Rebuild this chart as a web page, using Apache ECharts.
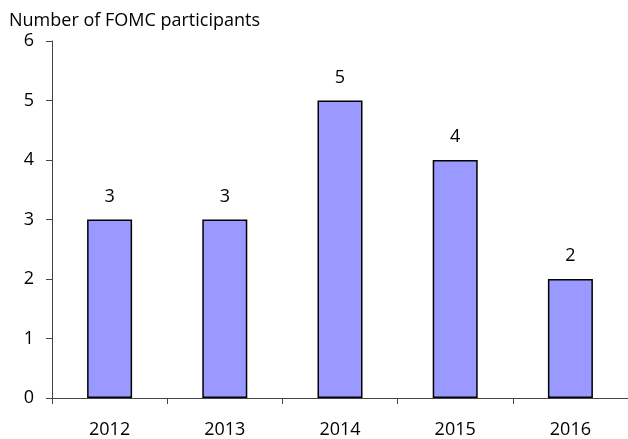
<!DOCTYPE html>
<html><head><meta charset="utf-8">
<script src="https://cdn.jsdelivr.net/npm/echarts@6/dist/echarts.min.js"></script>
<style>html,body{margin:0;padding:0;background:#fff}#c{width:628px;height:439px}</style>
</head><body><div id="c"></div>
<script>
const categories = ['2012','2013','2014','2015','2016'];
const participants = [3,3,5,4,2];
const yTitle = 'Number of FOMC participants';
const FONT = '"Open Sans", "Noto Sans", sans-serif';
const chart = echarts.init(document.getElementById('c'));
chart.setOption({
  animation:false,
  backgroundColor:'#fff',
  title:{text:yTitle,left:9,top:12,padding:0,textStyle:{fontFamily:FONT,fontSize:18,fontWeight:'normal',color:'#000'}},
  grid:{left:52,right:0,top:41,bottom:38,containLabel:false},
  xAxis:{type:'category',data:categories,
    axisLine:{lineStyle:{color:'#444',width:1}},
    axisTick:{show:true,length:6,lineStyle:{color:'#444'}},
    axisLabel:{fontFamily:FONT,fontSize:18,color:'#000',margin:23}},
  yAxis:{type:'value',min:0,max:6,interval:1,
    axisLine:{show:true,lineStyle:{color:'#444',width:1}},
    axisTick:{show:true,length:6,lineStyle:{color:'#444'}},
    splitLine:{show:false},
    axisLabel:{fontFamily:FONT,fontSize:18,color:'#000',margin:18}},
  series:[{type:'bar',data:participants,barWidth:45,
    itemStyle:{color:'#9999FF',borderColor:'#000',borderWidth:1.5},
    label:{show:true,position:'top',distance:14,fontFamily:FONT,fontSize:18,color:'#000'}}]
});
</script></body></html>
